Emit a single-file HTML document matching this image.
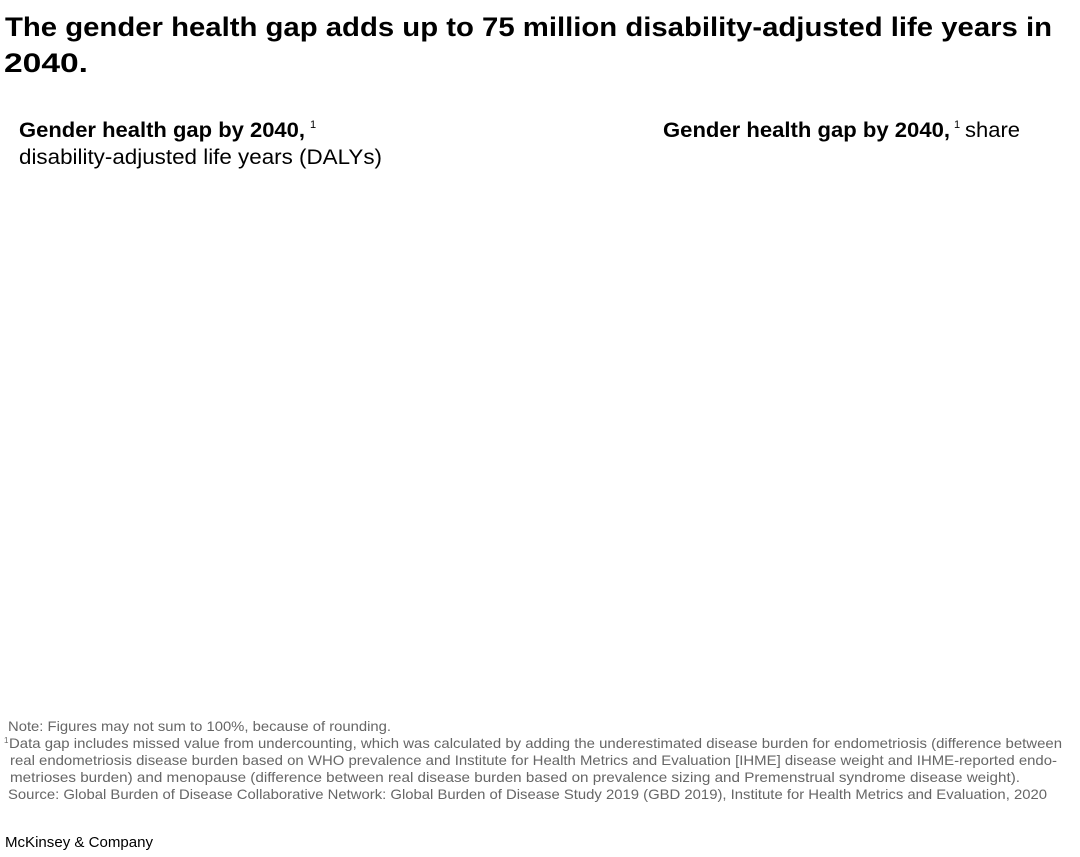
<!DOCTYPE html>
<html><head><meta charset="utf-8"><style>
html,body{margin:0;padding:0;background:#fff;}
svg{display:block;font-family:"Liberation Sans",Arial,sans-serif;}
</style></head><body>
<svg width="1080" height="857" viewBox="0 0 1080 857" xmlns="http://www.w3.org/2000/svg">
<g font-weight="bold" font-size="27" fill="#000">
<text x="5" y="36" textLength="1047" lengthAdjust="spacingAndGlyphs">The gender health gap adds up to 75 million disability-adjusted life years in</text>
<text x="4" y="72" textLength="84" lengthAdjust="spacingAndGlyphs">2040.</text>
</g>
<g font-size="21" fill="#000">
<text x="19" y="137" font-weight="bold" textLength="286" lengthAdjust="spacingAndGlyphs">Gender health gap by 2040,</text>
<text x="310" y="128" font-size="11">1</text>
<text x="19" y="164" textLength="363" lengthAdjust="spacingAndGlyphs">disability-adjusted life years (DALYs)</text>
<text x="663" y="137" font-weight="bold" textLength="287" lengthAdjust="spacingAndGlyphs">Gender health gap by 2040,</text>
<text x="954" y="128" font-size="11">1</text>
<text x="965" y="137" textLength="55" lengthAdjust="spacingAndGlyphs">share</text>
</g>
<g font-size="14" fill="#666">
<text x="8" y="731" textLength="383" lengthAdjust="spacingAndGlyphs">Note: Figures may not sum to 100%, because of rounding.</text>
<text x="4" y="743" font-size="8">1</text>
<text x="9" y="748" textLength="1053" lengthAdjust="spacingAndGlyphs">Data gap includes missed value from undercounting, which was calculated by adding the underestimated disease burden for endometriosis (difference between</text>
<text x="10" y="765" textLength="1047" lengthAdjust="spacingAndGlyphs">real endometriosis disease burden based on WHO prevalence and Institute for Health Metrics and Evaluation [IHME] disease weight and IHME-reported endo-</text>
<text x="10" y="782" textLength="1010" lengthAdjust="spacingAndGlyphs">metrioses burden) and menopause (difference between real disease burden based on prevalence sizing and Premenstrual syndrome disease weight).</text>
<text x="8" y="799" textLength="1039" lengthAdjust="spacingAndGlyphs">Source: Global Burden of Disease Collaborative Network: Global Burden of Disease Study 2019 (GBD 2019), Institute for Health Metrics and Evaluation, 2020</text>
</g>
<text x="5" y="847" font-size="15" fill="#000" textLength="148" lengthAdjust="spacingAndGlyphs">McKinsey &amp; Company</text>
</svg>
</body></html>
